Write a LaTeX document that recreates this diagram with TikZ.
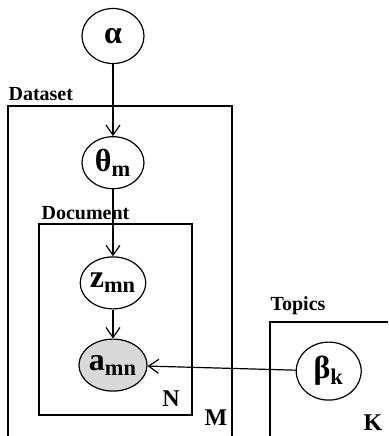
\documentclass[tikz,border=0pt]{standalone}
\usepackage{fontspec}
\setmainfont{Liberation Serif}
\usetikzlibrary{shapes.geometric}
\usetikzlibrary{positioning}
\usetikzlibrary{arrows.meta}

\begin{document}
\begin{tikzpicture}[x=0.5pt, y=-0.5pt, line width=0.6pt, >={Straight Barb[length=5pt, width=7pt]},
  var/.style = {draw, ellipse, minimum width=31pt, minimum height=26pt, inner sep=0pt, font=\fontsize{16}{18}\selectfont\bfseries},
  obs/.style = {var, fill=gray!30},
  lbl/.style = {font=\fontsize{10}{12}\selectfont\bfseries, inner sep=0pt}]
  \clip (0,0) rectangle (388,436);
  \useasboundingbox (0,0) rectangle (388,436);
  % plates
  \draw (8,106) rectangle (232,450);
  \draw (39,224) rectangle (192,415);
  \draw (270,322) rectangle (400,450);
  \node[lbl, anchor=south west] (dataset) at (8,101) {Dataset};
  \node[lbl, anchor=south west] (document) at (41,220) {Document};
  \node[lbl, anchor=south west] (topics) at (270,315) {Topics};
  \node[lbl, font=\fontsize{12}{14}\selectfont\bfseries] (N) at (171,399) {N};
  \node[lbl, font=\fontsize{12}{14}\selectfont\bfseries] (M) at (216,418) {M};
  \node[lbl, font=\fontsize{12}{14}\selectfont\bfseries] (K) at (373,423) {K};
  % variables
  \node[var, minimum height=27.5pt] (alpha) at (113,36) {α};
  \node[var] (theta) [below=36pt of alpha] {θ\textsubscript{m}};
  \node[var] (z) [below=33.5pt of theta] {z\textsubscript{mn}};
  \node[obs] (a) [below=14.5pt of z] {a\textsubscript{mn}};
  \node[var, minimum width=32.5pt, minimum height=29pt] (beta) [right=74pt of a, yshift=-3pt] {β\textsubscript{k}};
  \draw[->] (alpha) -- (theta);
  \draw[->] (theta) -- (z);
  \draw[->] (z) -- (a);
  \draw[->] (beta) -- (a);
\end{tikzpicture}
\end{document}
